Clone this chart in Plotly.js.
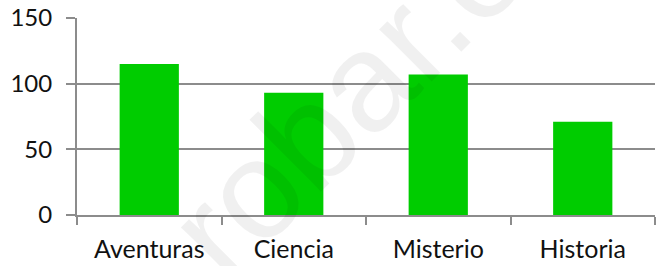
<!DOCTYPE html>
<html>
<head>
<meta charset="utf-8">
<script src="https://cdn.plot.ly/plotly-3.0.1.min.js"></script>
<style>html,body{margin:0;padding:0;background:#fff;}#chart{width:660px;height:266px;}</style>
</head>
<body>
<div id="chart"></div>
<script>
const categories = ["Aventuras", "Ciencia", "Misterio", "Historia"];
const values = [115, 93, 107, 71];
const yTicks = [0, 50, 100, 150];
const watermark = "robar.es";

const lineGray = "#8c8c8c";
const fontFam = "Lato, 'Open Sans', sans-serif";

const data = [{
  type: "bar",
  x: categories,
  y: values,
  marker: {color: "#00cc00", line: {width: 0}},
  hoverinfo: "skip"
}];

const layout = {
  width: 660, height: 266,
  margin: {l: 77, r: 5, t: 18, b: 51},
  paper_bgcolor: "#fff", plot_bgcolor: "#fff",
  showlegend: false,
  bargap: 0.59,
  font: {family: fontFam, size: 25, color: "#111"},
  xaxis: {
    type: "category",
    showline: true, linecolor: lineGray, linewidth: 2,
    ticks: "outside", tickson: "boundaries", ticklen: 8, tickcolor: lineGray, tickwidth: 2,
    ticklabelstandoff: 11,
    showgrid: false, zeroline: false,
    tickfont: {family: fontFam, size: 25, color: "#111"}
  },
  yaxis: {
    range: [0, 150], tickvals: yTicks, ticktext: yTicks.map(String),
    showline: true, linecolor: lineGray, linewidth: 2,
    ticks: "outside", ticklen: 9, tickcolor: lineGray, tickwidth: 2,
    ticklabelstandoff: 9,
    showgrid: true, gridcolor: lineGray, gridwidth: 2,
    zeroline: false,
    tickfont: {family: fontFam, size: 24, color: "#111"}
  },
  annotations: [{
    text: watermark, xref: "paper", yref: "paper",
    x: 0.508, y: 0.72, xanchor: "center", yanchor: "middle",
    showarrow: false, textangle: -45,
    font: {family: "Liberation Sans, Arial, sans-serif", size: 140, color: "rgba(0,0,0,0.06)"}
  }]
};

Plotly.newPlot("chart", data, layout, {staticPlot: true, displayModeBar: false});
</script>
</body>
</html>
